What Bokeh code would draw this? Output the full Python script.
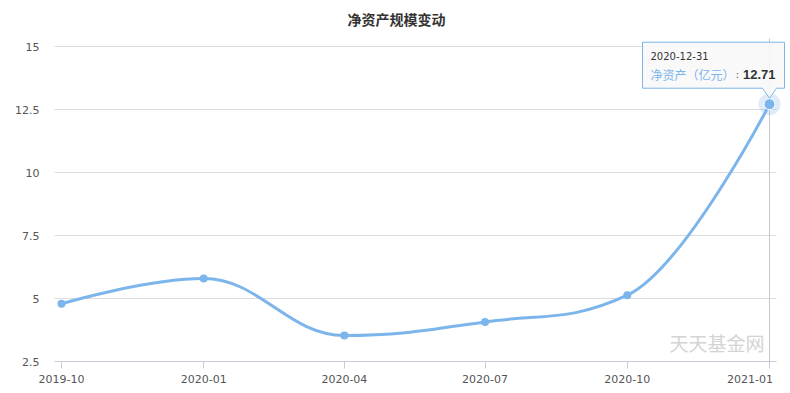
import pandas as pd
from bokeh.plotting import figure
from bokeh.models import ColumnDataSource, FixedTicker, Range1d, Label
from bokeh.embed import file_html
from bokeh.resources import INLINE

# ---------------- data ----------------
title_text = "净资产规模变动"
series_name = "净资产（亿元）"
dates = ["2019-09-30", "2019-12-31", "2020-03-31", "2020-06-30", "2020-09-30", "2020-12-31"]
net_assets = [4.79, 5.79, 3.53, 4.07, 5.13, 12.71]
tick_labels = ["2019-10", "2020-01", "2020-04", "2020-07", "2020-10", "2021-01"]
y_ticks = [2.5, 5, 7.5, 10, 12.5, 15]
y_tick_labels = ["2.5", "5", "7.5", "10", "12.5", "15"]
watermark = "天天基金网"

# ---------------- x as day offsets ----------------
dts = pd.to_datetime(dates)
xs = [int((d - dts[0]).days) for d in dts]
ys = net_assets

# ---------------- layout constants (pixels) ----------------
W, H = 790, 393
PPD = 708.0 / xs[-1]          # pixels per day
PPU = 63.0 / 2.5              # pixels per y unit
x_start = xs[0] - 7 / PPD
x_end = xs[-1] + 17 / PPD
grid_end = xs[-1] + 7 / PPD
y_start = 2.5
y_end = y_start + 361 / PPU   # frame reaches canvas top

BLUE = "#7cb5ec"
AXIS_FONT = "DejaVu Sans"
AXIS_COLOR = "#555555"

p = figure(width=W, height=H, output_backend="svg", toolbar_location=None,
           x_range=Range1d(x_start, x_end), y_range=Range1d(y_start, y_end),
           min_border_left=54, min_border_right=4, min_border_top=0, min_border_bottom=32)
p.outline_line_color = None
p.xgrid.grid_line_color = None
p.ygrid.grid_line_color = None
p.background_fill_color = "white"
p.border_fill_color = "white"

# y axis
p.yaxis.ticker = FixedTicker(ticks=y_ticks)
p.yaxis.major_label_overrides = {t: l for t, l in zip(y_ticks, y_tick_labels)}
p.yaxis.axis_line_color = None
p.yaxis.major_tick_line_color = None
p.yaxis.minor_tick_line_color = None
p.yaxis.major_tick_out = 0
p.yaxis.major_label_standoff = 15
p.yaxis.major_label_text_font = AXIS_FONT
p.yaxis.major_label_text_font_size = "11px"
p.yaxis.major_label_text_color = AXIS_COLOR

# x axis (last label justified toward the chart edge, as in the original)
p.xaxis.ticker = FixedTicker(ticks=xs)
overrides = {x: l for x, l in zip(xs, tick_labels)}
overrides[xs[-1]] = tick_labels[-1] + "\u00a0" * 5
p.xaxis.major_label_overrides = overrides
p.xaxis.bounds = (x_start, grid_end)
p.xaxis.axis_line_color = "#c8ccd6"
p.xaxis.major_tick_line_color = "#c8ccd6"
p.xaxis.minor_tick_line_color = None
p.xaxis.major_tick_out = 7
p.xaxis.major_tick_in = 0
p.xaxis.major_label_standoff = 4
p.xaxis.major_label_text_font = AXIS_FONT
p.xaxis.major_label_text_font_size = "11px"
p.xaxis.major_label_text_color = AXIS_COLOR

# grid lines
gx0 = [x_start] * len(y_ticks[1:])
gx1 = [grid_end] * len(y_ticks[1:])
p.segment(x0=gx0, y0=y_ticks[1:], x1=gx1, y1=y_ticks[1:], line_color="#dcdcdc", line_width=1)

# crosshair
p.segment(x0=[xs[-1]], y0=[y_start], x1=[xs[-1]], y1=[y_ticks[-1] + 8 / PPU],
          line_color="#c8c8c8", line_width=1)

# ---------------- spline (Highcharts-style) ----------------
n = len(xs)
lcx, lcy = list(map(float, xs)), list(map(float, ys))
rcx, rcy = list(map(float, xs)), list(map(float, ys))
sm, den = 1.5, 2.5
for i in range(1, n - 1):
    lx, ly = xs[i - 1], ys[i - 1]
    px, py = xs[i], ys[i]
    nx, ny = xs[i + 1], ys[i + 1]
    a_x = (sm * px + lx) / den
    a_y = (sm * py + ly) / den
    b_x = (sm * px + nx) / den
    b_y = (sm * py + ny) / den
    if b_x != a_x:
        corr = ((b_y - a_y) * (b_x - px)) / (b_x - a_x) + py - b_y
        a_y += corr
        b_y += corr
        if a_y > ly and a_y > py:
            a_y = max(ly, py)
            b_y = 2 * py - a_y
        elif a_y < ly and a_y < py:
            a_y = min(ly, py)
            b_y = 2 * py - a_y
        if b_y > ny and b_y > py:
            b_y = max(ny, py)
            a_y = 2 * py - b_y
        elif b_y < ny and b_y < py:
            b_y = min(ny, py)
            a_y = 2 * py - b_y
    lcx[i], lcy[i], rcx[i], rcy[i] = a_x, a_y, b_x, b_y

bez = ColumnDataSource(dict(
    x0=xs[:-1], y0=ys[:-1], x1=xs[1:], y1=ys[1:],
    cx0=rcx[:-1], cy0=rcy[:-1], cx1=lcx[1:], cy1=lcy[1:]))
p.bezier(x0="x0", y0="y0", x1="x1", y1="y1", cx0="cx0", cy0="cy0", cx1="cx1", cy1="cy1",
         source=bez, line_color=BLUE, line_width=3)

# markers
p.scatter(xs[:-1], ys[:-1], size=8, fill_color=BLUE, line_color=None)
p.scatter([xs[-1]], [ys[-1]], size=22, fill_color=BLUE, fill_alpha=0.25, line_color=None)
p.scatter([xs[-1]], [ys[-1]], size=11, fill_color=BLUE, line_color="white", line_width=1)

# ---------------- tooltip ----------------
px_, py_ = xs[-1], ys[-1]
def dx(v):
    return px_ + v / PPD
def dy(v):
    return py_ + v / PPU
L, R, T, B = -127, 15, 62, 16
tip_x = [dx(L), dx(R), dx(R), dx(7), dx(0), dx(-7), dx(L)]
tip_y = [dy(T), dy(T), dy(B), dy(B), dy(6), dy(B), dy(B)]
p.patch(tip_x, tip_y, fill_color="#f8f8f8", fill_alpha=0.9, line_color=BLUE, line_width=1)

date_lbl = Label(x=px_, y=py_, x_offset=-119, y_offset=48, text=dates[-1],
                 text_font="DejaVu Sans", text_font_size="10px", text_color="#333333",
                 text_baseline="middle", text_align="left")
name_lbl = Label(x=px_, y=py_, x_offset=-119, y_offset=30, text=series_name,
                 text_font="Noto Sans CJK SC", text_font_size="12px", text_color=BLUE,
                 text_baseline="middle", text_align="left")
colon_lbl = Label(x=px_, y=py_, x_offset=-34, y_offset=30, text=":",
                  text_font="DejaVu Sans", text_font_size="11px", text_color="#666666",
                  text_baseline="middle", text_align="left")
val_lbl = Label(x=px_, y=py_, x_offset=6, y_offset=30, text=f"{ys[-1]:.2f}",
                text_font="Liberation Sans", text_font_size="13px", text_font_style="bold",
                text_color="#333333", text_baseline="middle", text_align="right")
for lb in (date_lbl, name_lbl, colon_lbl, val_lbl):
    p.add_layout(lb)

# watermark
wm = Label(x=xs[-1], y=y_start, x_offset=-5, y_offset=19, text=watermark,
           text_font="Noto Sans CJK SC", text_font_size="19px", text_color="#d4d4d4",
           text_baseline="middle", text_align="right")
p.add_layout(wm)

# title
tt = Label(x=x_start, y=y_end, x_offset=342, y_offset=-18, text=title_text,
           text_font="Noto Sans CJK SC", text_font_size="14px", text_font_style="bold",
           text_color="#333333", text_baseline="middle", text_align="center")
p.add_layout(tt)

open("out.html", "w").write(file_html(p, INLINE))
